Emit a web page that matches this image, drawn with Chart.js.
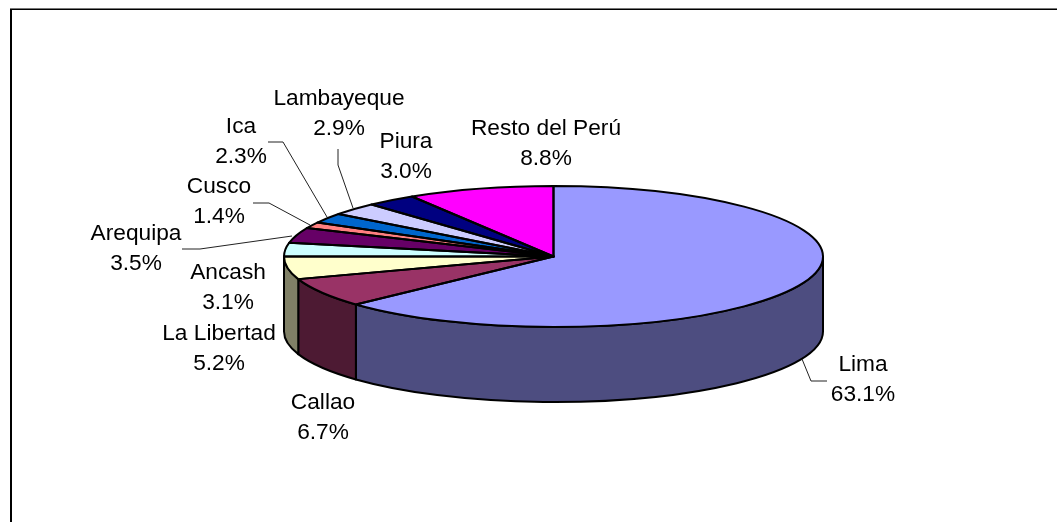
<!DOCTYPE html>
<html><head><meta charset="utf-8">
<style>html,body{margin:0;padding:0;background:#fff}canvas{display:block}</style>
<script src="https://cdn.jsdelivr.net/npm/chart.js@4"></script>
</head><body>
<canvas id="c" width="1057" height="522"></canvas>
<script>
const categories = ["Lima","Callao","La Libertad","Ancash","Arequipa","Cusco","Ica","Lambayeque","Piura","Resto del Perú"];
const shares = [63.1,6.7,5.2,3.1,3.5,1.4,2.3,2.9,3.0,8.8];
const topColors = ["#9999FF","#993366","#FFFFCC","#CCFFFF","#660066","#FF8080","#0066CC","#CCCCFF","#000080","#FF00FF"];
const wallColors = ["#4D4D80","#4D1A33","#808066","#668080","#330033","#804040","#003366","#666680","#000040","#800080"];
const labelPos = [[863,365],[323,403],[219,334],[228,273],[136,234],[219,187],[241,127],[339,99],[406,142],[546,129]];
const leaders = [
 [[802,359],[811,381],[827,381]],
 [[182,249],[200,249],[292,236]],
 [[253,203],[269,203],[310,225]],
 [[268,142],[283,142],[327,217]],
 [[338,149],[338,165],[353,208]]
];
const RX = 269.5, RY = 70.5, DEPTH = 75, PEN = 2;

function scales(arc){ return {sx: RX/arc.outerRadius, sy: RY/arc.outerRadius}; }
function arcs(chart){ return chart.getDatasetMeta(0).data; }

const pie3d = {
  id:'pie3d',
  beforeDraw(chart){
    const {ctx,width,height}=chart;
    ctx.save();
    ctx.fillStyle='#fff'; ctx.fillRect(0,0,width,height);
    ctx.fillStyle='#777'; ctx.fillRect(10,8,width-10,1);
    ctx.fillStyle='#000'; ctx.fillRect(10,9,width-10,1);
    ctx.fillRect(10,9,2,height-9);
    ctx.restore();
  },
  beforeDatasetsDraw(chart){
    const ctx=chart.ctx;
    // side wall, built from the library's own arc angles
    arcs(chart).forEach((a,i)=>{
      const p=a.getProps(['x','y','startAngle','endAngle','outerRadius'],true);
      const s=Math.max(p.startAngle,0), e=Math.min(p.endAngle,Math.PI);
      if(e<=s) return;
      const rx=p.outerRadius*scales(p).sx, ry=p.outerRadius*scales(p).sy;
      ctx.save();
      ctx.beginPath();
      ctx.ellipse(p.x,p.y,rx,ry,0,s,e);
      ctx.ellipse(p.x,p.y+DEPTH,rx,ry,0,e,s,true);
      ctx.closePath();
      ctx.fillStyle=wallColors[i]; ctx.strokeStyle='#000'; ctx.lineWidth=PEN; ctx.lineJoin='round';
      ctx.fill(); ctx.stroke();
      ctx.restore();
    });
    // squash the pie the library draws next
    const a0=arcs(chart)[0].getProps(['x','y','outerRadius'],true);
    const {sx,sy}=scales(a0);
    ctx.save();
    ctx.translate(a0.x,a0.y); ctx.scale(sx,sy); ctx.translate(-a0.x,-a0.y);
  },
  afterDatasetsDraw(chart){
    const ctx=chart.ctx;
    ctx.restore();
    // slice outlines, stroked unscaled so the pen stays even
    arcs(chart).forEach(a=>{
      const p=a.getProps(['x','y','startAngle','endAngle','outerRadius'],true);
      const rx=p.outerRadius*scales(p).sx, ry=p.outerRadius*scales(p).sy;
      ctx.save();
      ctx.beginPath();
      ctx.moveTo(p.x,p.y);
      ctx.ellipse(p.x,p.y,rx,ry,0,p.startAngle,p.endAngle);
      ctx.closePath();
      ctx.strokeStyle='#000'; ctx.lineWidth=PEN; ctx.lineJoin='round';
      ctx.stroke();
      ctx.restore();
    });
  },
  afterDraw(chart){
    const ctx=chart.ctx;
    ctx.save();
    ctx.strokeStyle='#222'; ctx.lineWidth=1;
    leaders.forEach(l=>{
      ctx.beginPath();
      l.forEach((q,k)=>k?ctx.lineTo(q[0],q[1]):ctx.moveTo(q[0],q[1]));
      ctx.stroke();
    });
    ctx.fillStyle='#000'; ctx.font='22.7px "Liberation Sans", Arial, sans-serif';
    ctx.textAlign='center'; ctx.textBaseline='middle';
    categories.forEach((name,i)=>{
      const [x,y]=labelPos[i];
      ctx.fillText(name,x,y);
      ctx.fillText(shares[i].toFixed(1)+'%',x,y+30);
    });
    ctx.restore();
  }
};

new Chart(document.getElementById('c'),{
  type:'pie',
  data:{labels:categories,datasets:[{data:shares,backgroundColor:topColors,borderWidth:0,clip:false}]},
  options:{
    responsive:false,animation:false,
    layout:{padding:{left:50,bottom:9}},
    events:[],
    plugins:{legend:{display:false},tooltip:{enabled:false},title:{display:false}}
  },
  plugins:[pie3d]
});
</script>
</body></html>
